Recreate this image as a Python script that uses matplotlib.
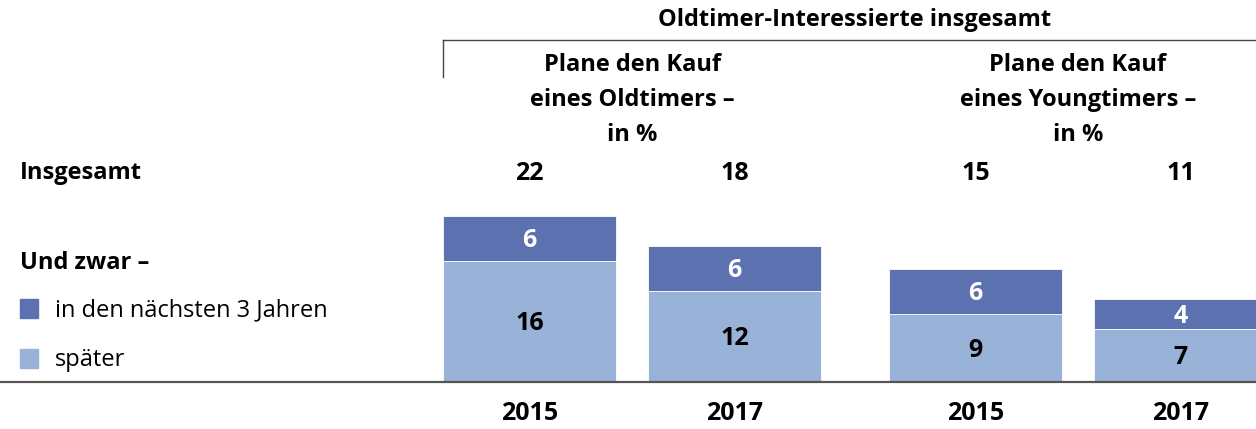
import matplotlib
matplotlib.use("Agg")
import matplotlib.pyplot as plt
from matplotlib.patches import Rectangle

# ---- data ----
groups = ["Plane den Kauf\neines Oldtimers –\nin %", "Plane den Kauf\neines Youngtimers –\nin %"]
years = ["2015", "2017", "2015", "2017"]
totals = [22, 18, 15, 11]
soon = [6, 6, 6, 4]          # in den nächsten 3 Jahren
later = [16, 12, 9, 7]       # später
legend_labels = ["in den nächsten 3 Jahren", "später"]
top_title = "Oldtimer-Interessierte insgesamt"

c_dark = "#5B71B0"
c_light = "#98B2D8"
W, H = 1256, 429
FONT = "Open Sans"
FS = 17
FSN = 18

fig = plt.figure(figsize=(W / 100, H / 100), dpi=100)
ax = fig.add_axes([0, 0, 1, 1])
ax.set_axis_off()

# positions: two groups of two bars
xs = [0, 1, 2.175, 3.175]
bw = 0.845
px_per_x = 205.0
x0_px = 529.5
ax.set_xlim(-x0_px / px_per_x, (W - x0_px) / px_per_x)
px_per_y = 7.55
base_px = 382  # from top
ax.set_ylim(-(H - base_px) / px_per_y, base_px / px_per_y)

ax.bar(xs, later, width=bw, color=c_light, edgecolor="white", linewidth=0.6, zorder=2)
ax.bar(xs, soon, width=bw, bottom=later, color=c_dark, edgecolor="white", linewidth=0.6, zorder=2)
ax.axhline(0, color="#555555", linewidth=1.6, zorder=3)

dy = 2 / px_per_y  # small downward nudge for visual centring
for x, s, l, t, yr in zip(xs, soon, later, totals, years):
    ax.text(x, l + s / 2 - dy, str(s), ha="center", va="center", color="white",
            fontsize=FSN, fontweight="bold", family=FONT, zorder=4)
    ax.text(x, l / 2 - dy, str(l), ha="center", va="center", color="black",
            fontsize=FSN, fontweight="bold", family=FONT, zorder=4)
    ax.text(x, (base_px - 173) / px_per_y, str(t), ha="center", va="center",
            fontsize=FSN, fontweight="bold", family=FONT)
    ax.text(x, -(414 - base_px) / px_per_y, yr, ha="center", va="center",
            fontsize=FSN, fontweight="bold", family=FONT)

# group headers
for g, (a, b) in zip(groups, [(0, 1), (2, 3)]):
    xc = (xs[a] + xs[b]) / 2
    ax.text(xc, (base_px - 100) / px_per_y, g, ha="center", va="center",
            fontsize=FS, fontweight="bold", family=FONT, linespacing=1.62)

def fx(p):
    return p / W

def fy(p):
    return 1 - p / H

fig.text(fx(855), fy(20), top_title, ha="center", va="center",
         fontsize=FS, fontweight="bold", family=FONT)
# bracket
fig.add_artist(plt.Line2D([fx(443), fx(1256)], [fy(40), fy(40)], color="#444444", lw=1.0))
fig.add_artist(plt.Line2D([fx(443), fx(443)], [fy(40), fy(77)], color="#444444", lw=1.0))

fig.text(fx(20), fy(173), "Insgesamt", ha="left", va="center",
         fontsize=FS, fontweight="bold", family=FONT)
fig.text(fx(20), fy(263), "Und zwar –", ha="left", va="center",
         fontsize=FS, fontweight="bold", family=FONT)

for i, (lab, col) in enumerate(zip(legend_labels, [c_dark, c_light])):
    yc = 308 + i * 50
    fig.add_artist(Rectangle((fx(20), fy(yc + 9.5)), fx(18), 19 / H, color=col,
                             transform=fig.transFigure))
    fig.text(fx(55), fy(yc + 2), lab, ha="left", va="center",
             fontsize=FS, family=FONT)

fig.savefig("out.png", dpi=100)
